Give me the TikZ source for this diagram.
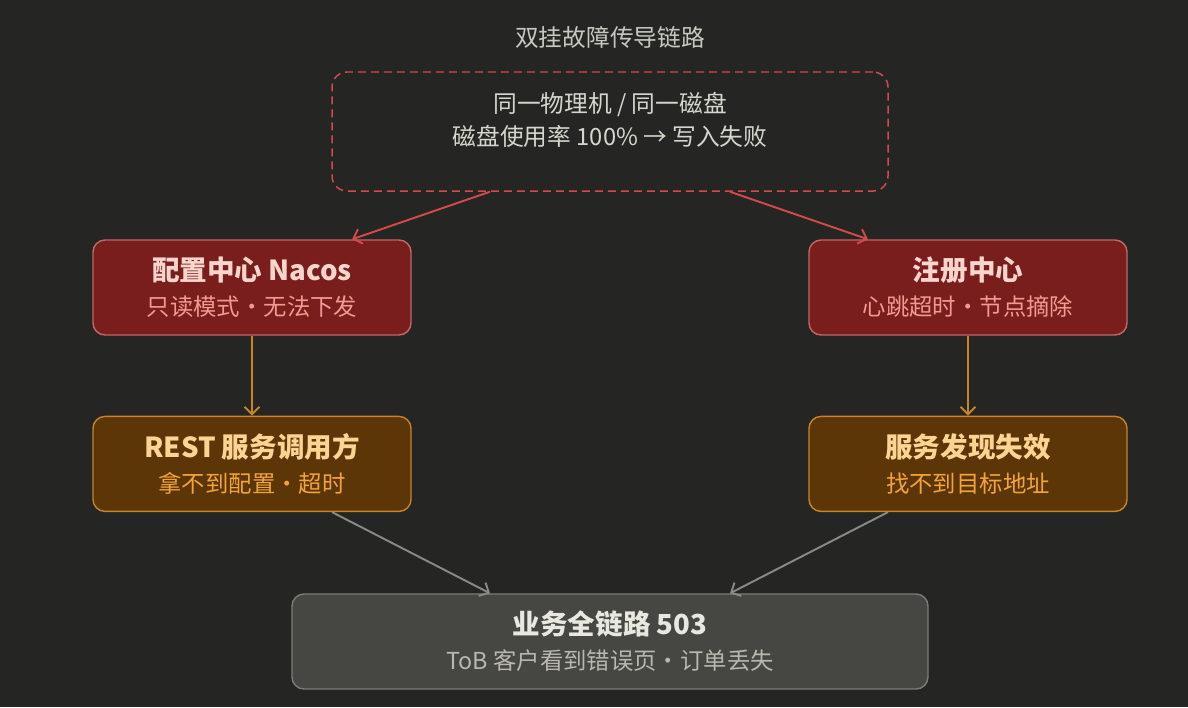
\documentclass[tikz,border=0pt]{standalone}
\usepackage{fontspec}
\setmainfont{Noto Sans CJK SC}
\usepackage{tikz}
\usetikzlibrary{arrows.meta, positioning}
\definecolor{chainbg}{RGB}{37,37,35}
\definecolor{chaintitle}{RGB}{200,200,192}
\definecolor{chaintext}{RGB}{214,214,206}
\definecolor{chainred}{RGB}{210,74,74}
\definecolor{redfill}{RGB}{122,29,29}
\definecolor{redline}{RGB}{192,104,104}
\definecolor{redhead}{RGB}{248,214,206}
\definecolor{redsub}{RGB}{240,154,144}
\definecolor{ambfill}{RGB}{92,54,6}
\definecolor{ambline}{RGB}{200,132,42}
\definecolor{ambhead}{RGB}{252,212,145}
\definecolor{ambsub}{RGB}{242,164,58}
\definecolor{grayfill}{RGB}{70,70,66}
\definecolor{grayline}{RGB}{124,124,118}
\definecolor{grayarrow}{RGB}{138,138,132}
\definecolor{grayhead}{RGB}{232,232,224}
\definecolor{graysub}{RGB}{184,184,176}

\begin{document}
\begin{tikzpicture}[
  node distance=1.6cm and 1.8cm,
  rootbox/.style={rectangle, draw=chainred, dash pattern=on 0.16cm off 0.1cm, line width=0.85pt, minimum width=11.12cm, minimum height=2.38cm, align=center, rounded corners=0.3cm, text=chaintext, font=\fontsize{13.5}{18.8}\selectfont},
  failbox/.style={rectangle, draw=redline, fill=redfill, line width=0.8pt, minimum width=6.36cm, minimum height=1.9cm, align=center, rounded corners=0.24cm, font=\fontsize{13.3}{20}\selectfont},
  warnbox/.style={failbox, draw=ambline, fill=ambfill},
  downbox/.style={failbox, draw=grayline, fill=grayfill, minimum width=12.72cm},
  arrow/.style={-{Straight Barb[length=1.5mm, width=3mm]}, line width=1.1pt}
]

\fill[chainbg] (0,0) rectangle (23.76,-14.14);
\useasboundingbox (0,0) rectangle (23.76,-14.14);

\node[text=chaintitle, font=\fontsize{13.5}{16}\selectfont] (title) at (12.2,-0.74) {双挂故障传导链路};

% text sits in the upper part of the dashed box
\node[rootbox] (disk) at (12.2,-2.63) {同一物理机 / 同一磁盘\\磁盘使用率 100\% → 写入失败\\[-4pt]\mbox{}};

\node[failbox] (nacos) at (5.04,-5.75) {{\color{redhead}\bfseries\fontsize{15.7}{20}\selectfont 配置中心 Nacos}\\{\color{redsub}只读模式·无法下发}};
\node[failbox] (registry) at (19.36,-5.75) {{\color{redhead}\bfseries\fontsize{15.7}{20}\selectfont 注册中心}\\{\color{redsub}心跳超时·节点摘除}};

\node[warnbox, below=1.6cm of nacos] (rest) {{\color{ambhead}\bfseries\fontsize{15.7}{20}\selectfont REST 服务调用方}\\{\color{ambsub}拿不到配置·超时}};
\node[warnbox, below=1.6cm of registry] (discovery) {{\color{ambhead}\bfseries\fontsize{15.7}{20}\selectfont 服务发现失效}\\{\color{ambsub}找不到目标地址}};

\node[downbox] (biz) at (12.2,-12.83) {{\color{grayhead}\bfseries\fontsize{15.7}{20}\selectfont 业务全链路 503}\\{\color{graysub}ToB 客户看到错误页·订单丢失}};

\draw[arrow, chainred] ([xshift=-2.4cm]disk.south) -- ([xshift=2cm]nacos.north);
\draw[arrow, chainred] ([xshift=2.4cm]disk.south) -- ([xshift=-2cm]registry.north);
\draw[arrow, ambline] (nacos) -- (rest);
\draw[arrow, ambline] (registry) -- (discovery);
\draw[arrow, grayarrow] ([xshift=1.6cm]rest.south) -- ([xshift=-2.4cm]biz.north);
\draw[arrow, grayarrow] ([xshift=-1.6cm]discovery.south) -- ([xshift=2.4cm]biz.north);

\end{tikzpicture}
\end{document}
